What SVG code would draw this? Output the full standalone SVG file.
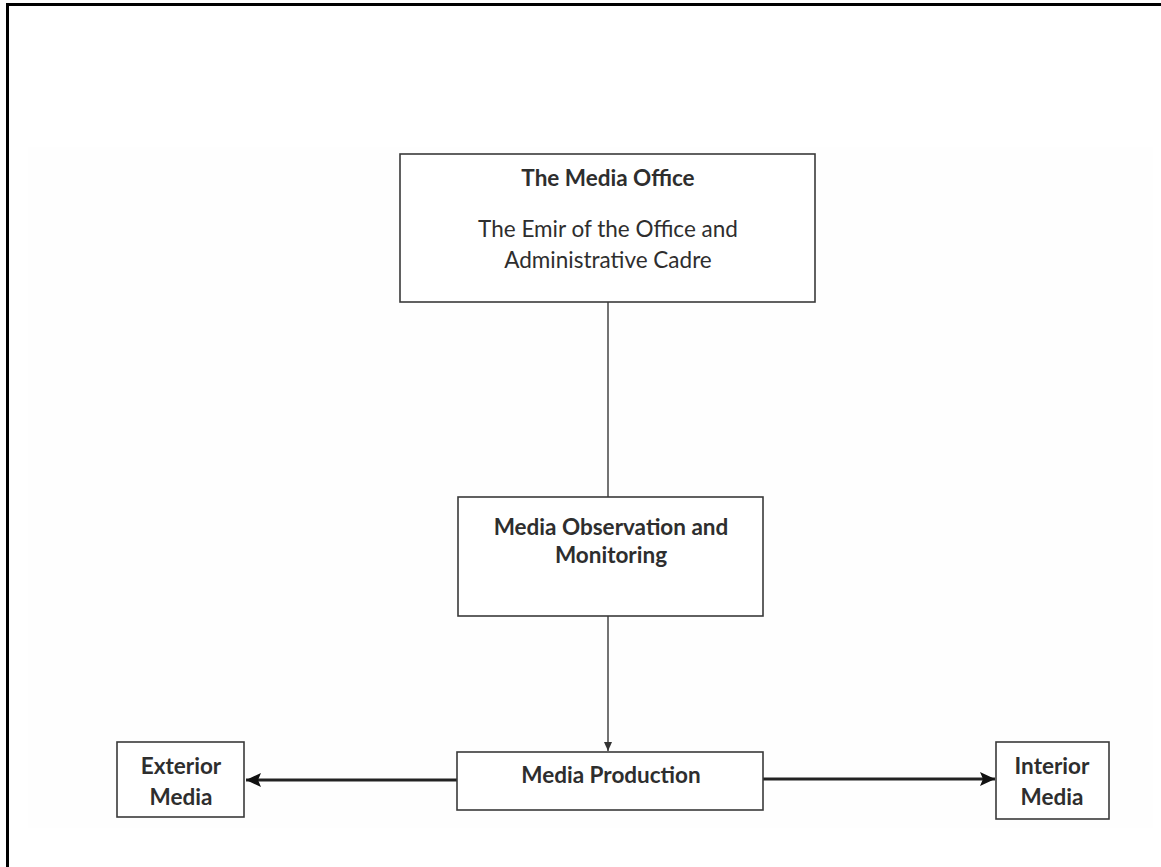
<svg xmlns="http://www.w3.org/2000/svg" width="1161" height="867" viewBox="0 0 1161 867">
  <defs>
    <style>
      .box { fill: #ffffff; stroke: #3a3a3a; stroke-width: 1.6; }
      .t { font-family: Lato, "Open Sans", "Liberation Sans", sans-serif; fill: #2e2e2e; text-anchor: middle; font-size: 22.5px; }
      .b { font-weight: bold; }
      .thin { stroke: #444; stroke-width: 1.5; fill: none; }
      .thick { stroke: #222; stroke-width: 3; fill: none; }
    </style>
    <marker id="smallHead" markerWidth="10" markerHeight="10" refX="9" refY="5" orient="auto" markerUnits="userSpaceOnUse">
      <path d="M0,1 L9,5 L0,9 Z" fill="#333"/>
    </marker>
    <marker id="bigHead" markerWidth="16" markerHeight="16" refX="15" refY="8" orient="auto" markerUnits="userSpaceOnUse">
      <path d="M0,1 L15,8 L0,15 L3,8 Z" fill="#111"/>
    </marker>
  </defs>
  <rect x="0" y="0" width="1161" height="867" fill="#ffffff"/>
  <rect x="28" y="147" width="1125" height="681" fill="#fefefe"/>
  <path d="M7.5,867 L7.5,4.5 L1161,4.5" fill="none" stroke="#000" stroke-width="3"/>

  <g id="connectors">
    <line class="thin" x1="608" y1="302" x2="608" y2="497"/>
    <line class="thin" x1="608" y1="616" x2="608" y2="751" marker-end="url(#smallHead)"/>
    <line class="thick" x1="457" y1="780" x2="246" y2="780" marker-end="url(#bigHead)"/>
    <line class="thick" x1="763" y1="779" x2="995" y2="779" marker-end="url(#bigHead)"/>
  </g>

  <g id="media-office">
    <rect class="box" x="400" y="154" width="415" height="148"/>
    <text class="t b" x="608" y="186">The Media Office</text>
    <text class="t" x="608" y="237">The Emir of the Office and</text>
    <text class="t" x="608" y="268">Administrative Cadre</text>
  </g>

  <g id="observation">
    <rect class="box" x="458" y="497" width="305" height="119"/>
    <text class="t b" x="611" y="535">Media Observation and</text>
    <text class="t b" x="611" y="563">Monitoring</text>
  </g>

  <g id="production">
    <rect class="box" x="457" y="752" width="306" height="58"/>
    <text class="t b" x="611" y="783">Media Production</text>
  </g>

  <g id="exterior">
    <rect class="box" x="117" y="742" width="127" height="75"/>
    <text class="t b" x="181" y="774">Exterior</text>
    <text class="t b" x="181" y="805">Media</text>
  </g>

  <g id="interior">
    <rect class="box" x="996" y="742" width="113" height="77"/>
    <text class="t b" x="1052" y="774">Interior</text>
    <text class="t b" x="1052" y="805">Media</text>
  </g>
</svg>
